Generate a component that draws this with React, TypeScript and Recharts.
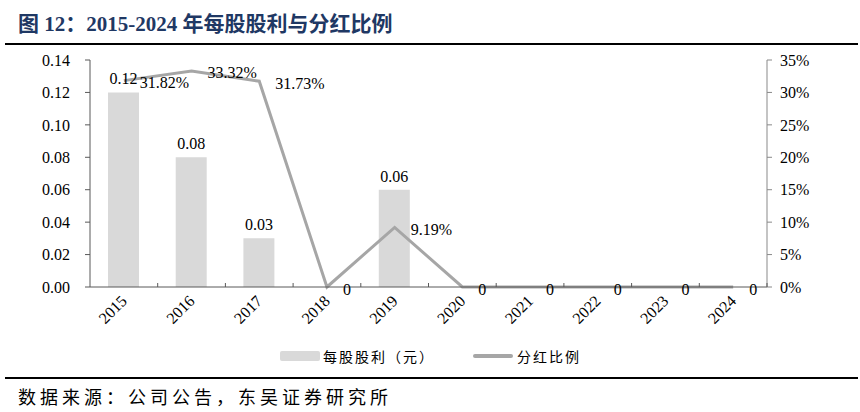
import {
  ComposedChart,
  Bar,
  Line,
  XAxis,
  YAxis,
  LabelList,
} from 'recharts';

const years = ['2015', '2016', '2017', '2018', '2019', '2020', '2021', '2022', '2023', '2024'];
const dividendPerShare = [0.12, 0.08, 0.03, 0, 0.06, 0, 0, 0, 0, 0];
const payoutRatio = [31.82, 33.32, 31.73, 0, 9.19, 0, 0, 0, 0, 0];
const leftTicks = [0, 0.02, 0.04, 0.06, 0.08, 0.1, 0.12, 0.14];
const rightTicks = [0, 5, 10, 15, 20, 25, 30, 35];
const seriesNames = ['每股股利（元）', '分红比例'];

const data = years.map((year, i) => ({
  year,
  dps: dividendPerShare[i],
  ratio: payoutRatio[i],
}));

const SERIF = '"Times New Roman", "Liberation Serif", "Noto Sans CJK SC", serif';
const CJK = '"Noto Sans CJK SC", "Liberation Serif", serif';
const BAR_COLOR = '#d9d9d9';
const LINE_COLOR = '#a6a6a6';

const CHART_W = 860;
const CHART_H = 412;
const margin = { top: 60, right: 33, left: 30, bottom: 75 };
const LEFT_W = 60;
const RIGHT_W = 60;
const BAND = (CHART_W - margin.left - margin.right - LEFT_W - RIGHT_W) / years.length;

function YearTick(props: any) {
  const { x, y, payload } = props;
  return (
    <g>
      <line x1={x + BAND / 2} y1={y} x2={x + BAND / 2} y2={y - 4} stroke="#595959" strokeWidth={1} />
      <text
        x={x + 4}
        y={y + 15}
        transform={`rotate(-45, ${x + 4}, ${y + 15})`}
        textAnchor="end"
        fontFamily={SERIF}
        fontSize={16}
        fill="#000"
      >
        {payload.value}
      </text>
    </g>
  );
}

function RatioLabel(props: any) {
  const { x, y, value } = props;
  const text = value === 0 ? '0' : `${Number(value).toFixed(2)}%`;
  return (
    <text x={x + 16} y={y + 2} dominantBaseline="central" textAnchor="start" fontFamily={SERIF} fontSize={16} fill="#000">
      {text}
    </text>
  );
}

export default function App() {
  return (
    <div style={{ position: 'absolute', left: 0, top: 0, width: CHART_W, height: CHART_H, background: '#fff' }}>
      <div
        style={{
          position: 'absolute',
          left: 18,
          top: 7,
          fontFamily: SERIF,
          fontWeight: 'bold',
          fontSize: 21,
          color: '#1f3864',
          whiteSpace: 'nowrap',
        }}
      >
        图 12：2015-2024 年每股股利与分红比例
      </div>
      <div style={{ position: 'absolute', left: 5, top: 43, width: 853, height: 2, background: '#000' }} />

      <ComposedChart
        width={CHART_W}
        height={CHART_H}
        data={data}
        margin={margin}
        style={{ position: 'absolute', left: 0, top: 0 }}
      >
        <XAxis
          dataKey="year"
          xAxisId={0}
          tick={<YearTick />}
          tickLine={false}
          tickSize={0}
          tickMargin={0}
          interval={0}
          height={50}
          axisLine={{ stroke: '#595959', strokeWidth: 1 }}
        />
        <YAxis
          yAxisId="left"
          orientation="left"
          width={LEFT_W}
          domain={[0, 0.14]}
          ticks={leftTicks}
          tickFormatter={(v: number) => v.toFixed(2)}
          tick={{ fontFamily: SERIF, fontSize: 16, fill: '#000' }}
          tickSize={5}
          tickMargin={15}
          tickLine={{ stroke: '#595959' }}
          axisLine={{ stroke: '#595959' }}
          interval={0}
        />
        <YAxis
          yAxisId="right"
          orientation="right"
          width={RIGHT_W}
          domain={[0, 35]}
          ticks={rightTicks}
          tickFormatter={(v: number) => `${v}%`}
          tick={{ fontFamily: SERIF, fontSize: 16, fill: '#000' }}
          tickSize={5}
          tickMargin={8}
          tickLine={{ stroke: '#898989' }}
          axisLine={{ stroke: '#898989' }}
          interval={0}
        />
        <Bar dataKey="dps" yAxisId="left" fill={BAR_COLOR} barSize={31} isAnimationActive={false}>
          <LabelList
            dataKey="dps"
            position="top"
            offset={8}
            formatter={(v: any) => (v === 0 ? '' : Number(v).toFixed(2))}
            style={{ fontFamily: SERIF, fontSize: 16, fill: '#000' }}
          />
        </Bar>
        <Line
          dataKey="ratio"
          yAxisId="right"
          type="linear"
          stroke={LINE_COLOR}
          strokeWidth={3}
          dot={false}
          activeDot={false}
          isAnimationActive={false}
        >
          <LabelList dataKey="ratio" content={<RatioLabel />} />
        </Line>
      </ComposedChart>

      <div
        style={{
          position: 'absolute',
          left: 280,
          top: 346,
          display: 'flex',
          alignItems: 'center',
          fontFamily: CJK,
          fontSize: 14,
          letterSpacing: 2,
          color: '#000',
          whiteSpace: 'nowrap',
        }}
      >
        <span style={{ width: 40, height: 10, background: BAR_COLOR, borderRadius: 2, marginRight: 3 }} />
        <span style={{ width: 150 }}>{seriesNames[0]}</span>
        <span style={{ width: 40, height: 4, background: LINE_COLOR, borderRadius: 2, marginRight: 4 }} />
        <span>{seriesNames[1]}</span>
      </div>

      <div style={{ position: 'absolute', left: 5, top: 377, width: 853, height: 2, background: '#000' }} />
      <div
        style={{
          position: 'absolute',
          left: 18,
          top: 383,
          fontFamily: CJK,
          fontSize: 18,
          letterSpacing: 4,
          color: '#000',
          whiteSpace: 'nowrap',
        }}
      >
        数据来源：公司公告，东吴证券研究所
      </div>
    </div>
  );
}
